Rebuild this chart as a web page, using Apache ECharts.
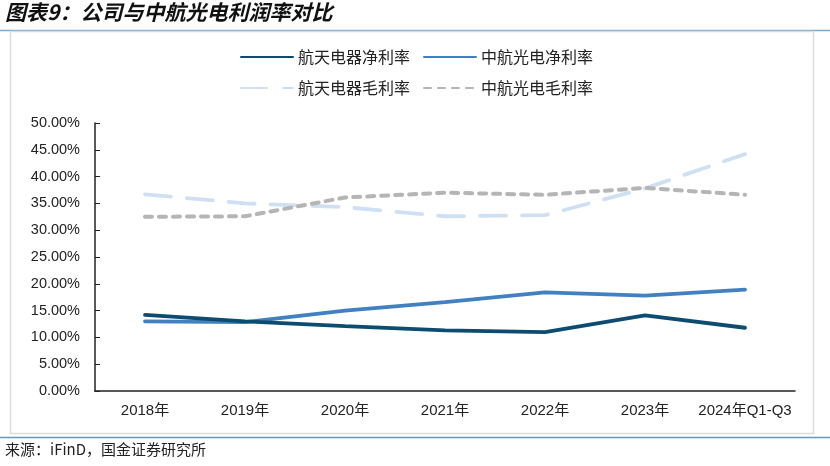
<!DOCTYPE html>
<html><head><meta charset="utf-8">
<script src="https://cdn.jsdelivr.net/npm/echarts@6/dist/echarts.min.js"></script>
<style>html,body{margin:0;padding:0;background:#fff}#c{width:830px;height:466px}</style>
</head><body><div id="c"></div>
<script>
const categories = ['2018年','2019年','2020年','2021年','2022年','2023年','2024年Q1-Q3'];
const htNet = [14.2, 13.0, 12.1, 11.3, 11.0, 14.1, 11.8];
const zhNet = [13.0, 12.85, 15.0, 16.6, 18.4, 17.8, 18.9];
const htGross = [36.7, 35.0, 34.3, 32.6, 32.8, 37.8, 44.2];
const zhGross = [32.5, 32.6, 36.1, 37.0, 36.6, 37.9, 36.6];
const yTicks = [0,5,10,15,20,25,30,35,40,45,50];
const names = ['航天电器净利率','中航光电净利率','航天电器毛利率','中航光电毛利率'];

const chart = echarts.init(document.getElementById('c'));
const font = '"Liberation Sans", Arial, "Noto Sans CJK SC", sans-serif';
const legendText = {fontSize:16, color:'#222', fontFamily:'"Noto Sans CJK SC", sans-serif'};
const legendCommon = {left:240, padding:0, itemWidth:52, itemHeight:10, itemGap:13,
  itemStyle:{opacity:0}, textStyle:legendText};
chart.setOption({
  animation:false,
  graphic:[
    {type:'line', shape:{x1:0,y1:30.5,x2:830,y2:30.5}, style:{stroke:'#7fa8c8', lineWidth:1.5}},
    {type:'rect', shape:{x:10.5,y:31.5,width:803,height:402}, style:{fill:'#fff', stroke:'#dcdcdc', lineWidth:1.5}},
    {type:'line', shape:{x1:0,y1:437.5,x2:830,y2:437.5}, style:{stroke:'#6a98bd', lineWidth:1.5}},
    {type:'text', left:5, top:2, style:{text:'图表9：公司与中航光电利润率对比', font:'italic bold 21px "Noto Sans CJK SC", sans-serif', fill:'#111'}},
    {type:'text', left:5, top:442, style:{text:'来源：iFinD，国金证券研究所', font:'15px "Noto Sans CJK SC", sans-serif', fill:'#222'}}
  ],
  legend:[
    Object.assign({top:49, data:[names[0],names[1]]}, legendCommon),
    Object.assign({top:80, data:[names[2],names[3]]}, legendCommon)
  ],
  grid:{left:95, right:35, top:123, bottom:75, containLabel:false},
  xAxis:{type:'category', data:categories, boundaryGap:true,
    axisLine:{lineStyle:{color:'#222', width:1.5}},
    axisTick:{inside:true, length:5, lineStyle:{color:'#222'}},
    axisLabel:{color:'#222', fontSize:15, margin:12, interval:0, fontFamily:font}},
  yAxis:{type:'value', min:yTicks[0], max:yTicks[yTicks.length-1], interval:5,
    splitLine:{show:false},
    axisLine:{show:true, lineStyle:{color:'#222', width:1.5}},
    axisTick:{show:true, inside:true, length:5, lineStyle:{color:'#222'}},
    axisLabel:{color:'#222', fontSize:14.5, margin:15, fontFamily:font, formatter:v=>v.toFixed(2)+'%'}},
  series:[
    {name:names[0], type:'line', data:htNet, symbol:'none', z:4,
      lineStyle:{color:'#0d4c71', width:3.8, cap:'round'}, itemStyle:{color:'#0d4c71'}},
    {name:names[1], type:'line', data:zhNet, symbol:'none', z:3,
      lineStyle:{color:'#4181c2', width:3.8, cap:'round'}, itemStyle:{color:'#4181c2'}},
    {name:names[2], type:'line', data:htGross, symbol:'none', z:2,
      lineStyle:{color:'#cfe0f2', width:3.8, type:[26,16], cap:'round'}, itemStyle:{color:'#cfe0f2'}},
    {name:names[3], type:'line', data:zhGross, symbol:'none', z:2,
      lineStyle:{color:'#b5b5b5', width:4, type:[7,7], cap:'round'}, itemStyle:{color:'#b5b5b5'}}
  ]
});
</script></body></html>
